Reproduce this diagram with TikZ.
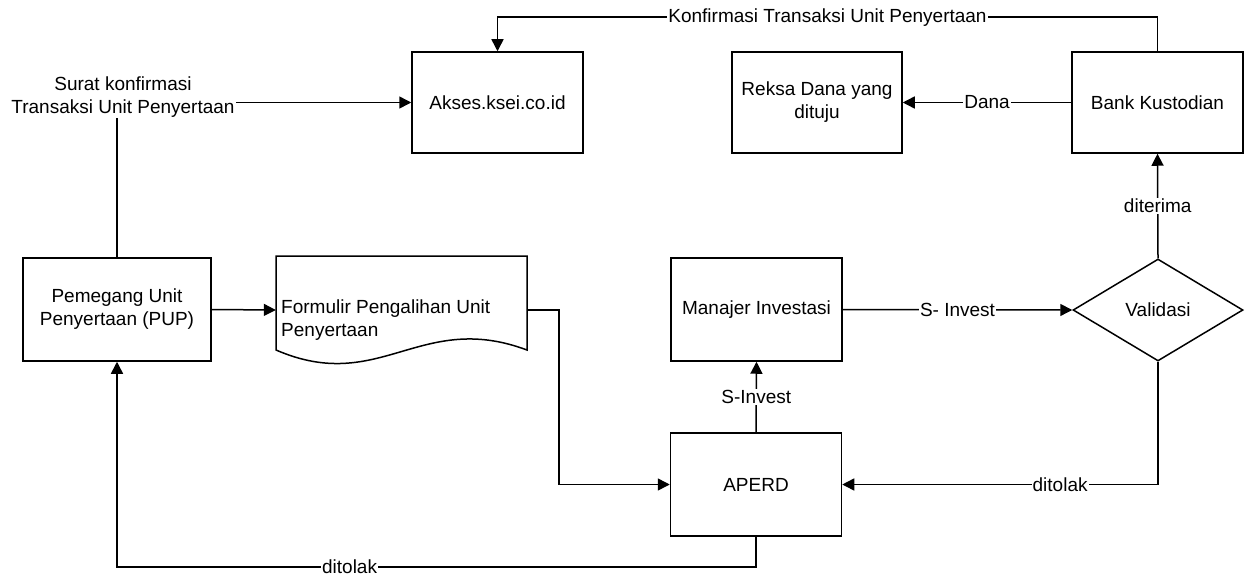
\documentclass[tikz,border=0pt]{standalone}
\usepackage{fontspec}
\setmainfont{Liberation Sans}
\usetikzlibrary{arrows.meta,shapes.geometric}
\begin{document}
\begin{tikzpicture}[x=1pt,y=-1pt,
  every node/.style={font=\fontsize{19}{23}\selectfont},
  box/.style={draw,line width=1.5pt,minimum width=171pt,minimum height=101pt,inner sep=2pt,align=center},
  lbl/.style={fill=white,inner sep=1pt,align=center},
  conn/.style={line width=1.5pt},
  arr/.style={conn,-{Triangle[length=12pt,width=12pt]}}]
\useasboundingbox (0,0) rectangle (1252,578);

% nodes
\node[box] (akses) at (497.5,102.5) {Akses.ksei.co.id};
\node[box, minimum width=170pt] (reksa) at (817,102.5) {Reksa Dana yang\\dituju};
\node[box] (bank) at (1157.5,102.5) {Bank Kustodian};
\node[box, minimum width=188pt, minimum height=103pt] (pup) at (117,309.5) {Pemegang Unit\\Penyertaan (PUP)};
\node[box, minimum height=103pt] (mi) at (756.5,309.5) {Manajer Investasi};
\node[box, minimum height=103pt] (aperd) at (756,484.5) {APERD};
\node[draw, diamond, line width=1.5pt, minimum width=170pt, minimum height=102pt, aspect=1.67, inner sep=0pt] (val) at (1158,310) {Validasi};

% document shape
\node[minimum width=251pt, minimum height=108pt, inner sep=0pt] (form) at (401.5,310) {};
\draw[conn] (276,256) -- (527,256) -- (527,350) .. controls (420,310) and (380,395) .. (276,350) -- cycle;
\node[anchor=west, align=left, inner sep=2pt] (formtxt) at (279,320) {Formulir Pengalihan Unit\\Penyertaan};

% connectors
\draw[arr] (pup.east) -- (form.west);
\draw[arr] (form.east) -- ++(32,0) |- (aperd.west);
\draw[arr] (aperd.north) -- node[lbl]{S-Invest} (mi.south);
\draw[arr] (mi.east) -- node[lbl]{S- Invest} (val.west);
\draw[arr] (val.south) |- node[lbl, pos=0.655]{ditolak} (aperd.east);
\draw[arr] (val.north) -- node[lbl]{diterima} (bank.south);
\draw[arr] (bank.west) -- node[lbl]{Dana} (reksa.east);
\draw[arr] (bank.north) -- ++(0,-34) -| node[lbl, pos=0.25]{Konfirmasi Transaksi Unit Penyertaan} (akses.north);
\draw[arr] (pup.north) |- node[lbl, pos=0.5, xshift=6pt, yshift=5.5pt]{Surat konfirmasi\\Transaksi Unit Penyertaan} (akses.west);
\draw[arr] (aperd.south) -- ++(0,30) -| node[lbl, pos=0.318]{ditolak} (pup.south);
\end{tikzpicture}
\end{document}
